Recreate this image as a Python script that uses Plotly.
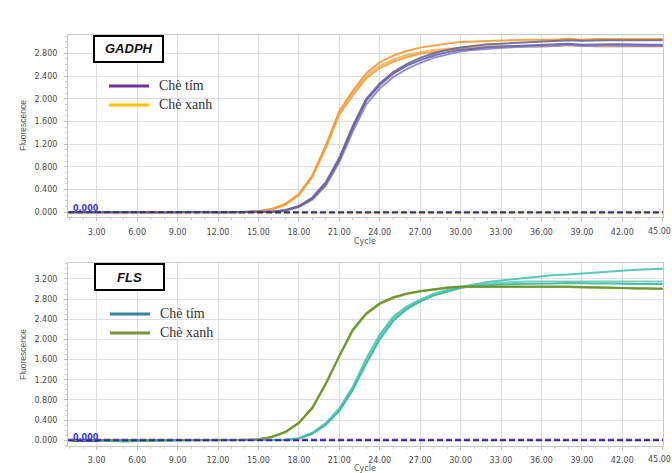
import plotly.graph_objects as go

W, H = 672, 473

cycles = list(range(1, 46))

# ---------------- GADPH (top panel) ----------------
gadph_tim_a = [0.00, 0.00, 0.00, 0.01, 0.01, 0.00, 0.00, -0.01, 0.00, 0.01, 0.00, 0.00, -0.01, 0.00, 0.01,
               0.01, 0.03, 0.10, 0.24, 0.50, 0.92, 1.48, 1.97, 2.24, 2.44, 2.58, 2.68, 2.76, 2.82, 2.86,
               2.88, 2.91, 2.92, 2.93, 2.94, 2.95, 2.95, 2.97, 2.95, 2.96, 2.96, 2.96, 2.95, 2.95, 2.95]
gadph_tim_b = [0.00, 0.00, 0.01, 0.00, 0.01, 0.00, -0.01, 0.00, 0.00, 0.00, 0.01, 0.00, 0.00, 0.00, 0.00,
               0.01, 0.03, 0.09, 0.22, 0.47, 0.88, 1.42, 1.90, 2.18, 2.38, 2.52, 2.63, 2.72, 2.78, 2.83,
               2.86, 2.88, 2.90, 2.91, 2.92, 2.92, 2.93, 2.95, 2.93, 2.93, 2.94, 2.93, 2.93, 2.93, 2.93]
gadph_tim_c = [0.00, 0.01, 0.00, 0.00, 0.00, 0.01, 0.00, 0.00, 0.01, 0.00, 0.00, -0.01, 0.00, 0.01, 0.01,
               0.01, 0.04, 0.11, 0.26, 0.53, 0.96, 1.52, 2.00, 2.27, 2.47, 2.61, 2.72, 2.80, 2.86, 2.90,
               2.93, 2.96, 2.97, 2.98, 2.99, 3.00, 3.01, 3.03, 3.02, 3.03, 3.03, 3.03, 3.03, 3.03, 3.03]
gadph_xanh_a = [0.00, 0.00, 0.00, 0.00, 0.01, 0.00, 0.00, 0.00, 0.00, 0.00, 0.00, 0.00, 0.00, 0.01, 0.02,
                0.06, 0.15, 0.32, 0.65, 1.18, 1.78, 2.14, 2.45, 2.64, 2.76, 2.84, 2.90, 2.94, 2.97, 3.00,
                3.01, 3.02, 3.03, 3.03, 3.04, 3.04, 3.04, 3.06, 3.04, 3.05, 3.05, 3.05, 3.05, 3.05, 3.05]
gadph_xanh_b = [0.00, 0.00, 0.00, 0.00, 0.00, 0.00, 0.00, 0.00, 0.00, 0.00, 0.00, 0.00, 0.00, 0.01, 0.02,
                0.05, 0.13, 0.30, 0.62, 1.13, 1.72, 2.06, 2.36, 2.54, 2.65, 2.73, 2.79, 2.83, 2.86, 2.88,
                2.89, 2.90, 2.91, 2.92, 2.92, 2.92, 2.93, 2.94, 2.93, 2.93, 2.93, 2.93, 2.93, 2.93, 2.93]
gadph_xanh_c = [0.00, 0.00, 0.00, 0.00, 0.00, 0.00, 0.00, 0.00, 0.00, 0.00, 0.00, 0.00, 0.00, 0.01, 0.02,
                0.06, 0.14, 0.31, 0.63, 1.15, 1.75, 2.10, 2.40, 2.58, 2.69, 2.77, 2.82, 2.86, 2.88, 2.90,
                2.91, 2.92, 2.92, 2.93, 2.93, 2.93, 2.93, 2.95, 2.93, 2.92, 2.92, 2.92, 2.92, 2.92, 2.92]

# ---------------- FLS (bottom panel) ----------------
fls_xanh_a = [0.00, 0.00, 0.00, 0.00, 0.00, 0.00, 0.00, 0.00, 0.01, 0.01, 0.00, 0.00, 0.01, 0.01, 0.02,
              0.07, 0.17, 0.35, 0.65, 1.13, 1.68, 2.20, 2.52, 2.72, 2.84, 2.91, 2.96, 3.00, 3.03, 3.05,
              3.05, 3.06, 3.06, 3.06, 3.05, 3.05, 3.05, 3.05, 3.04, 3.04, 3.03, 3.02, 3.02, 3.01, 3.00]
fls_xanh_b = [0.00, 0.00, 0.00, 0.00, 0.00, 0.00, 0.00, 0.00, 0.01, 0.00, 0.00, 0.00, 0.01, 0.01, 0.02,
              0.06, 0.16, 0.34, 0.63, 1.11, 1.66, 2.17, 2.50, 2.70, 2.82, 2.90, 2.95, 2.99, 3.02, 3.04,
              3.04, 3.05, 3.05, 3.05, 3.04, 3.04, 3.04, 3.04, 3.03, 3.03, 3.02, 3.02, 3.01, 3.01, 3.01]
fls_tim_a = [0.00, 0.00, -0.01, -0.01, -0.02, -0.02, -0.01, -0.01, 0.00, 0.00, 0.00, 0.00, 0.00, 0.00, 0.00,
             0.00, 0.01, 0.04, 0.15, 0.34, 0.63, 1.06, 1.62, 2.09, 2.45, 2.65, 2.79, 2.90, 2.98, 3.04,
             3.09, 3.14, 3.17, 3.20, 3.23, 3.26, 3.28, 3.29, 3.31, 3.33, 3.35, 3.36, 3.38, 3.39, 3.40]
fls_tim_b = [0.00, 0.00, -0.01, -0.01, -0.02, -0.02, -0.01, 0.00, 0.00, 0.00, 0.00, 0.00, 0.00, 0.00, 0.00,
             0.00, 0.01, 0.04, 0.14, 0.32, 0.60, 1.02, 1.56, 2.03, 2.40, 2.62, 2.77, 2.89, 2.97, 3.03,
             3.08, 3.11, 3.13, 3.14, 3.15, 3.15, 3.15, 3.16, 3.15, 3.15, 3.15, 3.15, 3.15, 3.15, 3.15]
fls_tim_c = [0.00, 0.00, -0.01, -0.01, -0.02, -0.01, -0.01, 0.00, 0.00, 0.00, 0.00, 0.00, 0.00, 0.00, 0.00,
             0.00, 0.01, 0.03, 0.13, 0.31, 0.58, 1.00, 1.52, 2.00, 2.37, 2.60, 2.75, 2.87, 2.95, 3.02,
             3.06, 3.08, 3.09, 3.10, 3.10, 3.11, 3.11, 3.12, 3.11, 3.11, 3.11, 3.10, 3.10, 3.10, 3.10]

x_ticks = list(range(3, 46, 3))
gadph_y_ticks = [0.0, 0.4, 0.8, 1.2, 1.6, 2.0, 2.4, 2.8]
fls_y_ticks = [0.0, 0.4, 0.8, 1.2, 1.6, 2.0, 2.4, 2.8, 3.2]
threshold = 0.0
legend_labels = ["Chè tím", "Chè xanh"]


def px(x):
    return x / W


def py(y):
    return 1 - y / H


fig = go.Figure()

top_series = [
    (gadph_xanh_b, "#F2A03A"), (gadph_xanh_c, "#F7B060"), (gadph_xanh_a, "#F39B30"),
    (gadph_tim_b, "#8A88CC"), (gadph_tim_a, "#6664B4"), (gadph_tim_c, "#6C6490"),
]
for vals, col in top_series:
    fig.add_trace(go.Scatter(x=cycles, y=vals, mode="lines", line=dict(color=col, width=2),
                             opacity=0.9, xaxis="x", yaxis="y", showlegend=False, hoverinfo="skip"))

bottom_series = [
    (fls_tim_a, "#45C4AE"), (fls_tim_b, "#62CDBE"), (fls_tim_c, "#38B8A0"),
    (fls_xanh_b, "#7FA23A"), (fls_xanh_a, "#6A9528"),
]
for vals, col in bottom_series:
    fig.add_trace(go.Scatter(x=cycles, y=vals, mode="lines", line=dict(color=col, width=2),
                             opacity=0.9, xaxis="x2", yaxis="y2", showlegend=False, hoverinfo="skip"))

# threshold lines
fig.add_shape(type="line", xref="x domain", yref="y", x0=0, x1=1, y0=threshold - 0.015, y1=threshold - 0.015,
              line=dict(color="#E8C028", width=2, dash="6px,3px"))
fig.add_shape(type="line", xref="x domain", yref="y", x0=0, x1=1, y0=threshold, y1=threshold,
              line=dict(color="#2A2CA0", width=2, dash="6px,3px"))
fig.add_shape(type="line", xref="x2 domain", yref="y2", x0=0, x1=1, y0=threshold + 0.015, y1=threshold + 0.015,
              line=dict(color="#C27EE0", width=2, dash="6px,3px"))
fig.add_shape(type="line", xref="x2 domain", yref="y2", x0=0, x1=1, y0=threshold, y1=threshold,
              line=dict(color="#2A2CA0", width=2, dash="6px,3px"))

tickfont = dict(family="DejaVu Sans", size=8, color="#4a4a4a")
common_x = dict(range=[0.87, 45.02], tickmode="array", tickvals=x_ticks, tickformat=".2f",
                showgrid=True, gridcolor="#dddddd", gridwidth=1, zeroline=False,
                showline=True, linecolor="#c8c8c8", mirror=True,
                ticks="outside", ticklen=3, tickcolor="#bbbbbb",
                minor=dict(tickmode="linear", tick0=0, dtick=1, ticks="outside", ticklen=2,
                           tickcolor="#cccccc", showgrid=False),
                tickfont=tickfont, ticklabelstandoff=4)
common_y = dict(tickmode="array", tickformat=".3f",
                showgrid=True, gridcolor="#dddddd", gridwidth=1, zeroline=False,
                showline=True, linecolor="#c8c8c8", mirror=True,
                ticks="outside", ticklen=3, tickcolor="#bbbbbb",
                minor=dict(tickmode="linear", tick0=0, dtick=0.1, ticks="outside", ticklen=2,
                           tickcolor="#cccccc", showgrid=False),
                tickfont=tickfont, ticklabelstandoff=5)

xdom = [px(68), px(663)]
fig.update_layout(
    width=W, height=H, margin=dict(l=0, r=0, t=0, b=0),
    paper_bgcolor="white", plot_bgcolor="white",
    xaxis=dict(domain=xdom, anchor="y", **common_x),
    yaxis=dict(domain=[py(217), py(35)], anchor="x", range=[-0.083, 3.122], tickvals=gadph_y_ticks, **common_y),
    xaxis2=dict(domain=xdom, anchor="y2", **common_x),
    yaxis2=dict(domain=[py(445.7), py(263.3)], anchor="x2", range=[-0.107, 3.51], tickvals=fls_y_ticks, **common_y),
)

shapes = []
annotations = []
lab_font = dict(family="DejaVu Sans", size=8, color="#555555")
for cy in (241, 468):
    annotations.append(dict(text="Cycle", x=px(365), y=py(cy), xref="paper", yref="paper",
                            showarrow=False, font=lab_font, xanchor="center", yanchor="middle"))
# last x tick label, which runs into the right edge of the picture
for cy in (231, 459):
    annotations.append(dict(text="%.2f" % x_ticks[-1], x=1.0, y=py(cy), xref="paper", yref="paper",
                            showarrow=False, font=tickfont, xanchor="right", yanchor="middle",
                            borderpad=0))
for cy in (126, 355):
    annotations.append(dict(text="Fluorescence", x=px(23), y=py(cy), xref="paper", yref="paper",
                            showarrow=False, font=dict(family="Liberation Sans", size=8.5, color="#555555"),
                            textangle=-90, xanchor="center", yanchor="middle"))
for cy in (208, 437):
    annotations.append(dict(text="<b><u>0.000</u></b>", x=px(71), y=py(cy), xref="paper", yref="paper",
                            showarrow=False, font=dict(family="DejaVu Sans", size=8, color="#3A3AD0"),
                            xanchor="left", yanchor="middle"))

# gene name boxes
for (x0, x1, y0, y1, name) in [(94, 163, 36, 62, "GADPH"), (95, 164, 264, 290, "FLS")]:
    shapes.append(dict(type="rect", xref="paper", yref="paper", x0=px(x0), x1=px(x1), y0=py(y1), y1=py(y0),
                       line=dict(color="black", width=2), fillcolor="white", layer="above"))
    annotations.append(dict(text="<b><i>%s</i></b>" % name, x=px((x0 + x1) / 2), y=py((y0 + y1) / 2),
                            xref="paper", yref="paper", showarrow=False,
                            font=dict(family="Liberation Sans", size=13, color="#111111"),
                            xanchor="center", yanchor="middle"))

# custom legends
legend_specs = [
    (109, 86, "#7030A0", legend_labels[0]), (109, 105, "#FFC000", legend_labels[1]),
    (110, 314, "#31859C", legend_labels[0]), (110, 333, "#77933C", legend_labels[1]),
]
for lx, ly, col, txt in legend_specs:
    shapes.append(dict(type="line", xref="paper", yref="paper", x0=px(lx), x1=px(lx + 40), y0=py(ly), y1=py(ly),
                       line=dict(color=col, width=3), layer="above"))
    annotations.append(dict(text=txt, x=px(lx + 48), y=py(ly - 1), xref="paper", yref="paper", showarrow=False,
                            font=dict(family="Liberation Serif", size=14, color="#333333"),
                            xanchor="left", yanchor="middle"))

for s in shapes:
    fig.add_shape(**s)
fig.update_layout(annotations=annotations)

fig.write_html("out.html", config={"displayModeBar": False},
               post_script="document.body.style.margin='0px';")
